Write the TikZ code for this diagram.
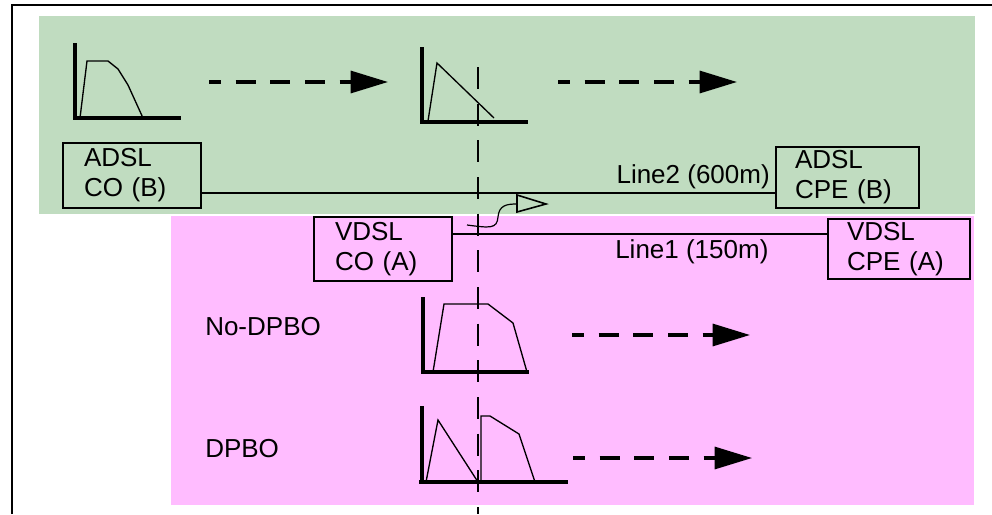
\documentclass[tikz,border=0pt]{standalone}
\usepackage{fontspec}
\setmainfont{Liberation Sans}
\usetikzlibrary{arrows.meta}
\definecolor{bggreen}{RGB}{192,220,192}
\definecolor{bgpink}{RGB}{255,188,255}
\begin{document}
\begin{tikzpicture}[x=0.75pt,y=-0.75pt,
  box/.style={draw, line width=2pt, rectangle, inner sep=0pt, align=left, font=\fontsize{19.5}{22.5}\selectfont},
  lbl/.style={inner sep=0pt, font=\fontsize{19.5}{22.5}\selectfont},
  axis/.style={line width=2.3pt},
  curve/.style={line width=1pt, line join=miter},
  flow/.style={line width=2.3pt, dash pattern=on 15pt off 11pt, dash phase=6pt, -{Triangle[length=28pt,width=16.5pt]}},
  wire/.style={line width=2pt},
  frame/.style={line width=1.8pt},
  vdash/.style={line width=1.8pt, dash pattern=on 16.5pt off 11pt}
]
\useasboundingbox (0,0) rectangle (992,514);
\fill[bggreen] (39,16) rectangle (975,214);
\fill[bgpink] (171,216) rectangle (974,505);
\draw[frame] (12,514) -- (12,5) -- (992,5);

% top-left graph
\draw[axis] (75,43) -- (75,118);
\draw[axis] (73,118) -- (181,118);
\draw[curve] (80,118) -- (87,61) -- (108,61) -- (118,69) -- (128,85) -- (143,118);
\coordinate (a1s) at (209,82);
\coordinate (a1e) at (388,82);
\draw[flow] (a1s) -- (a1e);

% top-middle graph
\draw[axis] (422,47) -- (422,122);
\draw[axis] (420,122) -- (528,122);
\draw[curve] (428,121) -- (437,63) -- (494,118);
\coordinate (a2s) at (558,82);
\coordinate (a2e) at (737,82);
\draw[flow] (a2s) -- (a2e);

% vertical dashed divider
\coordinate (vtop) at (478,67);
\coordinate (vbot) at (478,514);
\draw[vdash] (vtop) -- (vbot);

% boxes
\node[box, minimum width=103.5pt, minimum height=48.75pt, text width=72pt] (adslco) at (132,175.5) {ADSL\\CO (B)};
\node[box, minimum width=107.25pt, minimum height=45.75pt, text width=78.75pt] (adslcpe) at (847.5,177.5) {ADSL\\CPE (B)};
\node[box, minimum width=103.5pt, minimum height=48pt, text width=72pt] (vdslco) at (383,249) {VDSL\\CO (A)};
\node[box, minimum width=106.5pt, minimum height=45pt, text width=78pt] (vdslcpe) at (899,249) {VDSL\\CPE (A)};

% wires
\draw[wire] (adslco.east |- 0,193) -- (adslcpe.west |- 0,193);
\draw[wire] (vdslco.east |- 0,234) -- (vdslcpe.west |- 0,234);

% labels
\node[lbl, anchor=base east] (l2) at (770,183) {Line2 (600m)};
\node[lbl, anchor=base west] (l1) at (615,258) {Line1 (150m)};
\node[lbl, anchor=base west] (nodpbo) at (205,335) {No-DPBO};
\node[lbl, anchor=base west] (dpbo) at (205,457) {DPBO};

% crosstalk wavy arrow
\coordinate (w0) at (467,225);
\coordinate (w1) at (517,204);
\draw[line width=0.9pt] (w0) .. controls (490,228) and (497,229) .. (498,217) .. controls (499,205) and (507,204) .. (w1);
\draw[line width=1.2pt, line join=miter] (517,195) -- (546,204) -- (517,212) -- cycle;

% No-DPBO graph
\draw[axis] (423,297) -- (423,372);
\draw[axis] (421,372) -- (529,372);
\draw[curve] (433,372) -- (444,304) -- (488,304) -- (513,323) -- (527,372);
\coordinate (a3s) at (572,335);
\coordinate (a3e) at (750,335);
\draw[flow] (a3s) -- (a3e);

% DPBO graph
\draw[axis] (422,406) -- (422,482);
\draw[axis] (419,482) -- (568,482);
\draw[curve] (426,482) -- (438,420) -- (478,482);
\draw[curve] (481,482) -- (481,416) -- (490,416) -- (519,434) -- (535,482);
\coordinate (a4s) at (573,458);
\coordinate (a4e) at (752,458);
\draw[flow] (a4s) -- (a4e);
\end{tikzpicture}
\end{document}
